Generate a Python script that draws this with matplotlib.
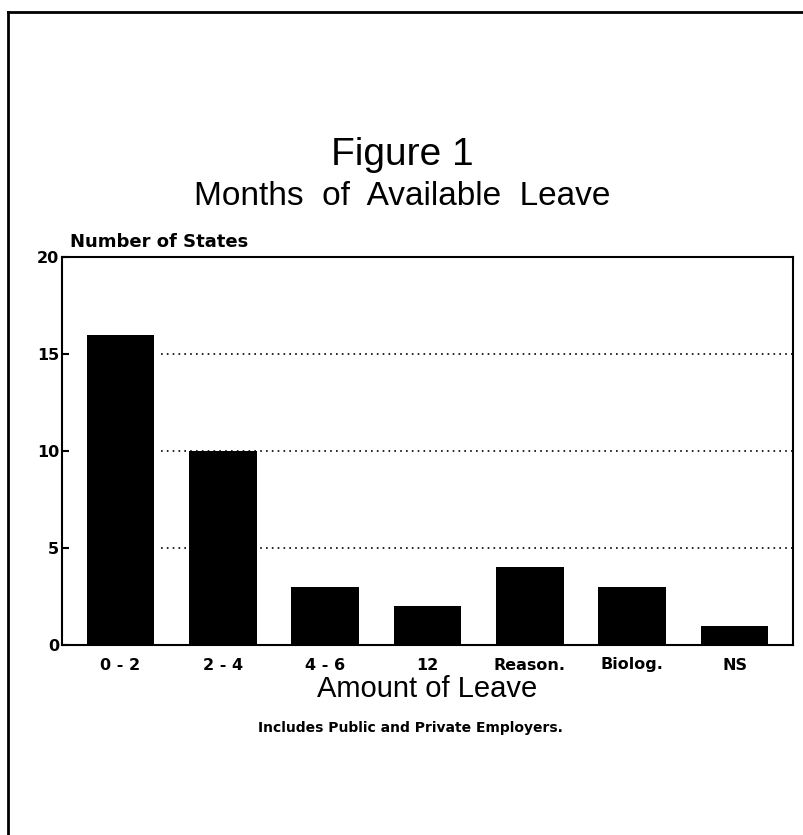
import matplotlib
matplotlib.use("Agg")
import matplotlib.pyplot as plt
from matplotlib.lines import Line2D

# Data
categories = ["0 - 2", "2 - 4", "4 - 6", "12", "Reason.", "Biolog.", "NS"]
states = [16, 10, 3, 2, 4, 3, 1]
y_ticks = [0, 5, 10, 15, 20]
grid_levels = [5, 10, 15]

plt.rcParams['font.family'] = ['Liberation Sans', 'DejaVu Sans']
bold_font = ['DejaVu Sans']  # wider bold face, closer to the scanned labels

W, H = 804, 835
fig = plt.figure(figsize=(W / 100, H / 100), dpi=100)
ax = fig.add_axes([62 / W, 1 - 645 / H, (793 - 62) / W, (645 - 257) / H])

x = list(range(len(categories)))

# dotted reference lines, starting right of the first bar as in the original
ax.hlines(grid_levels, 0.4, 6.57, colors="black", linestyles=(0, (1, 2.5)),
          linewidth=1.2, zorder=1)
ax.bar(x, states, width=0.66, color="black", zorder=2)

ax.set_xlim(-0.57, 6.57)
ax.set_ylim(0, 20)
ax.set_yticks(y_ticks)
ax.set_xticks(x)
ax.set_xticklabels(categories, fontsize=11.5, fontweight="bold", family=bold_font)
ax.set_yticklabels([str(v) for v in y_ticks], fontsize=11.5, fontweight="bold",
                   family=bold_font)
ax.tick_params(axis="y", direction="in", length=5, width=1.5, pad=2)
ax.tick_params(axis="x", length=0, pad=9)
for s in ax.spines.values():
    s.set_linewidth(1.5)

# titles and labels
fig.text(0.5, 1 - 165 / H, "Figure 1", ha="center", va="baseline", fontsize=28)
fig.text(0.5, 1 - 205 / H, "Months  of  Available  Leave", ha="center",
         va="baseline", fontsize=24)
fig.text(70 / W, 1 - 247 / H, "Number of States", ha="left", va="baseline",
         fontsize=13, fontweight="bold", family=bold_font)
fig.text(427 / W, 1 - 697 / H, "Amount of Leave", ha="center", va="baseline",
         fontsize=21)
fig.text(410 / W, 1 - 732 / H, "Includes Public and Private Employers.",
         ha="center", va="baseline", fontsize=10, fontweight="bold",
         family=bold_font)

# page border lines from the scanned page
fig.add_artist(Line2D([8 / W, 1.0], [1 - 12 / H, 1 - 12 / H], color="black",
                      linewidth=2, transform=fig.transFigure))
fig.add_artist(Line2D([8 / W, 8 / W], [1 - 12 / H, 0.0], color="black",
                      linewidth=2, transform=fig.transFigure))

fig.savefig("out.png", dpi=100)
